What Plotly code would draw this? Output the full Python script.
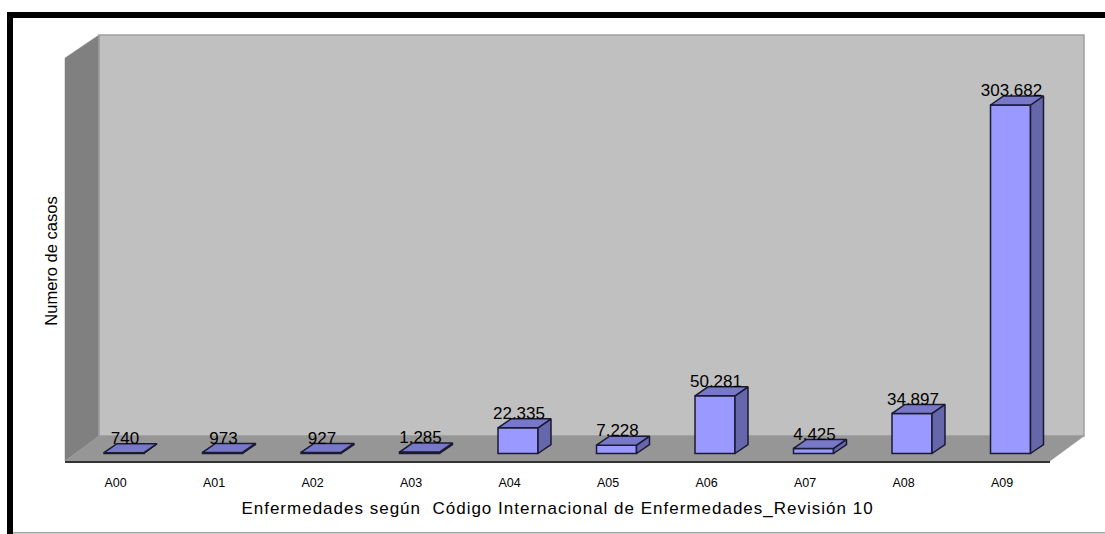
import plotly.graph_objects as go

categories = ["A00", "A01", "A02", "A03", "A04", "A05", "A06", "A07", "A08", "A09"]
cases = [740, 973, 927, 1285, 22335, 7228, 50281, 4425, 34897, 303682]
x_title = "Enfermedades según  Código Internacional de Enfermedades_Revisión 10"
y_title = "Numero de casos"

W, H = 1105, 534
L, R, T, B = 65, 1050, 61, 461
STEP = (R - L) / len(categories)
BASE = 453.5
PX_PER_CASE = 348.5 / 303682
BAR_PX = 40
DX, DY = 13, 9
FONT = "Liberation Sans"

pos = list(range(len(categories)))
half = BAR_PX / STEP / 2
dx = DX / STEP
dy = DY / PX_PER_CASE

x_range = [(L - 124) / STEP, (R - 124) / STEP]
y_range = [(BASE - B) / PX_PER_CASE, (BASE - T) / PX_PER_CASE]


def px(x):
    return (x - L) / (R - L)


def py(y):
    return (B - y) / (B - T)


def poly(points, fill, line=None, width=1):
    path = "M " + " L ".join(f"{px(a):.5f},{py(b):.5f}" for a, b in points) + " Z"
    return dict(type="path", xref="paper", yref="paper", path=path, fillcolor=fill,
                line=dict(color=line or fill, width=width), layer="below")


def rect(x0, y0, x1, y1, fill):
    return dict(type="rect", xref="paper", yref="paper", x0=px(x0), y0=py(y0), x1=px(x1), y1=py(y1),
                fillcolor=fill, line=dict(width=0), layer="below")


shapes = [
    rect(7, 12, W, 18, "#000000"),
    rect(7, 12, 13, H, "#000000"),
    rect(13, 532, W, 533.5, "#a0a0a0"),
    poly([(99, 35), (1084, 35), (1084, 436), (99, 436)], "#c0c0c0", "#a0a0a0", 1.5),
    poly([(65, 58), (99, 35), (99, 436), (65, 461)], "#808080", "#808080", 0.5),
    poly([(65, 461), (99, 436), (1084, 436), (1050, 461)], "#969696", "#969696", 0.5),
    dict(type="line", xref="paper", yref="paper", x0=px(99), y0=py(35), x1=px(99), y1=py(436),
         line=dict(color="#a0a0a0", width=1.5), layer="below"),
]

top_x, top_y, side_x, side_y = [], [], [], []
for i, v in zip(pos, cases):
    top_x += [i - half, i + half, i + half + dx, i - half + dx, i - half, None]
    top_y += [v, v, v + dy, v + dy, v, None]
    side_x += [i + half, i + half + dx, i + half + dx, i + half, i + half, None]
    side_y += [0, dy, v + dy, v, 0, None]

labels = [f"{v:,}".replace(",", ".") for v in cases]
label_y = [v + 13 / PX_PER_CASE for v in cases]

fig = go.Figure()
fig.add_trace(go.Bar(x=pos, y=cases, width=2 * half, marker=dict(color="#9999ff", line=dict(color="#1a1a33", width=1.5)),
                     hoverinfo="skip"))
fig.add_trace(go.Scatter(x=side_x, y=side_y, mode="lines", fill="toself", fillcolor="#6666aa",
                         line=dict(color="#1a1a33", width=1.5), hoverinfo="skip"))
fig.add_trace(go.Scatter(x=top_x, y=top_y, mode="lines", fill="toself", fillcolor="#7878c8",
                         line=dict(color="#1a1a33", width=1.5), hoverinfo="skip"))
fig.add_trace(go.Scatter(x=[p + 0.01 for p in pos], y=label_y, mode="text", text=labels, textposition="middle center",
                         textfont=dict(family=FONT, size=17, color="#000000"), hoverinfo="skip", cliponaxis=False))

fig.update_layout(
    width=W, height=H, autosize=False, showlegend=False,
    margin=dict(l=L, r=W - R, t=T, b=H - B, pad=0),
    paper_bgcolor="#ffffff", plot_bgcolor="rgba(0,0,0,0)",
    shapes=shapes,
    xaxis=dict(range=x_range, tickmode="array", tickvals=[i - 8.5 / STEP for i in pos], ticktext=categories,
               tickfont=dict(family=FONT, size=12.5, color="#000000"), showgrid=False, zeroline=False,
               showline=True, linecolor="#333333", linewidth=2, ticks="outside", ticklen=9,
               tickcolor="rgba(0,0,0,0)",
               title=dict(text=x_title, font=dict(family=FONT, size=17, color="#000000"), standoff=13)),
    yaxis=dict(range=y_range, showgrid=False, zeroline=False, showticklabels=False, showline=False, ticks="",
               title=dict(text=y_title, font=dict(family=FONT, size=16.5, color="#000000"), standoff=2)),
)

post = ("document.body.style.margin='0';document.documentElement.style.overflow='hidden';"
        "document.querySelectorAll('.xtitle').forEach(e=>e.style.letterSpacing='1px');")
fig.write_html("out.html", post_script=post, config={"displayModeBar": False})
